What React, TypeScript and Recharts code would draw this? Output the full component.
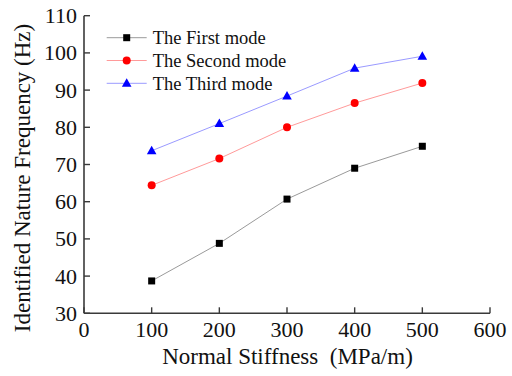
import React from 'react';
import { LineChart, Line, XAxis, YAxis, Legend } from 'recharts';

const stiffness = [100, 200, 300, 400, 500];
const firstMode = [38.7, 48.8, 60.7, 69.0, 74.9];
const secondMode = [64.4, 71.6, 80.0, 86.5, 91.9];
const thirdMode = [73.7, 81.0, 88.4, 95.9, 99.1];

const seriesNames = ['The First mode', 'The Second mode', 'The Third mode'];
const xTicks = [0, 100, 200, 300, 400, 500, 600];
const yTicks = [30, 40, 50, 60, 70, 80, 90, 100, 110];
const xMinorTicks = [50, 150, 250, 350, 450, 550];
const yMinorTicks = [35, 45, 55, 65, 75, 85, 95, 105];

const FONT = '"Liberation Serif", "Times New Roman", serif';
const AXIS = '#3a3a3a';
const TEXT = '#111';

const series = [
  { key: 'first', name: seriesNames[0], line: '#9a9a9a', fill: '#000000', shape: 'square' },
  { key: 'second', name: seriesNames[1], line: '#ff9a9a', fill: '#ff0000', shape: 'circle' },
  { key: 'third', name: seriesNames[2], line: '#9a9aff', fill: '#0000ff', shape: 'triangle' },
];

const data = stiffness.map((x, i) => ({
  x,
  first: firstMode[i],
  second: secondMode[i],
  third: thirdMode[i],
}));

function Marker({ shape, cx, cy, fill }: { shape: string; cx: number; cy: number; fill: string }) {
  if (shape === 'square') {
    return <rect x={cx - 3.5} y={cy - 3.5} width={7} height={7} fill={fill} />;
  }
  if (shape === 'circle') {
    return <circle cx={cx} cy={cy} r={4} fill={fill} />;
  }
  return <polygon points={`${cx},${cy - 5} ${cx + 4.8},${cy + 3.5} ${cx - 4.8},${cy + 3.5}`} fill={fill} />;
}

// legend drawn as an svg block with line + marker + label per row
const LegendBox = () => (
  <svg width={200} height={72} style={{ display: 'block' }}>
    {series.map((s, i) => {
      const cy = 11.7 + i * 22.8;
      return (
        <g key={s.key}>
          <line x1={0.7} x2={40.7} y1={cy} y2={cy} stroke={s.line} strokeWidth={1} />
          <Marker shape={s.shape} cx={20.7} cy={cy} fill={s.fill} />
          <text x={46.7} y={cy + 6.5} fontFamily={FONT} fontSize={18.5} fill={TEXT}>
            {s.name}
          </text>
        </g>
      );
    })}
  </svg>
);

const XTick = (p: any) => (
  <text x={p.x} y={p.y} dy={15.6} textAnchor="middle" fontFamily={FONT} fontSize={22} fill={TEXT}>
    {p.payload.value}
  </text>
);

const YTick = (p: any) => (
  <text x={p.x} y={p.y} dy={7.5} textAnchor="end" fontFamily={FONT} fontSize={22} fill={TEXT}>
    {p.payload.value}
  </text>
);

export default function App() {
  return (
    <div style={{ position: 'absolute', left: 0, top: 0, background: '#fff' }}>
      <LineChart
        width={512}
        height={376}
        data={data}
        margin={{ top: 15.7, right: 22, left: 0, bottom: 0 }}
      >
        <XAxis
          type="number"
          dataKey="x"
          domain={[0, 600]}
          ticks={xTicks}
          interval={0}
          height={62.7}
          tickSize={-6}
          tickMargin={14.4}
          tick={XTick}
          axisLine={{ stroke: AXIS, strokeWidth: 1.6 }}
          tickLine={{ stroke: AXIS, strokeWidth: 1.4 }}
          label={() => (
            <text
              x={287.5}
              y={364.3}
              textAnchor="middle"
              fontFamily={FONT}
              fontSize={23}
              fill={TEXT}
              style={{ whiteSpace: 'pre' }}
            >
              {'Normal Stiffness  (MPa/m)'}
            </text>
          )}
        />
        <XAxis
          xAxisId="top"
          orientation="top"
          type="number"
          domain={[0, 600]}
          ticks={xMinorTicks}
          interval={0}
          height={0}
          tickSize={-3}
          tickFormatter={() => ''}
          axisLine={{ stroke: AXIS, strokeWidth: 1.6 }}
          tickLine={{ stroke: AXIS, strokeWidth: 1.4 }}
        />
        <YAxis
          type="number"
          domain={[30, 110]}
          ticks={yTicks}
          interval={0}
          width={84}
          tickSize={-6}
          tickMargin={13}
          tick={YTick}
          axisLine={{ stroke: AXIS, strokeWidth: 1.6 }}
          tickLine={{ stroke: AXIS, strokeWidth: 1.4 }}
          label={() => (
            <text
              x={30}
              y={178}
              transform="rotate(-90 30 178)"
              textAnchor="middle"
              fontFamily={FONT}
              fontSize={23}
              fill={TEXT}
            >
              Identified Nature Frequency (Hz)
            </text>
          )}
        />
        <YAxis
          yAxisId="right"
          orientation="right"
          type="number"
          domain={[30, 110]}
          ticks={yMinorTicks}
          interval={0}
          width={0}
          tickSize={-3}
          tickFormatter={() => ''}
          axisLine={{ stroke: AXIS, strokeWidth: 1.6 }}
          tickLine={{ stroke: AXIS, strokeWidth: 1.4 }}
        />
        <Legend
          layout="vertical"
          align="center"
          verticalAlign="middle"
          content={LegendBox}
          wrapperStyle={{ top: 26, left: 106, width: 200, height: 72 }}
        />
        {series.map((s) => (
          <Line
            key={s.key}
            type="linear"
            dataKey={s.key}
            name={s.name}
            stroke={s.line}
            strokeWidth={1}
            isAnimationActive={false}
            dot={(p: any) => <Marker key={`${s.key}-${p.index}`} shape={s.shape} cx={p.cx} cy={p.cy} fill={s.fill} />}
            activeDot={false}
          />
        ))}
      </LineChart>
    </div>
  );
}
